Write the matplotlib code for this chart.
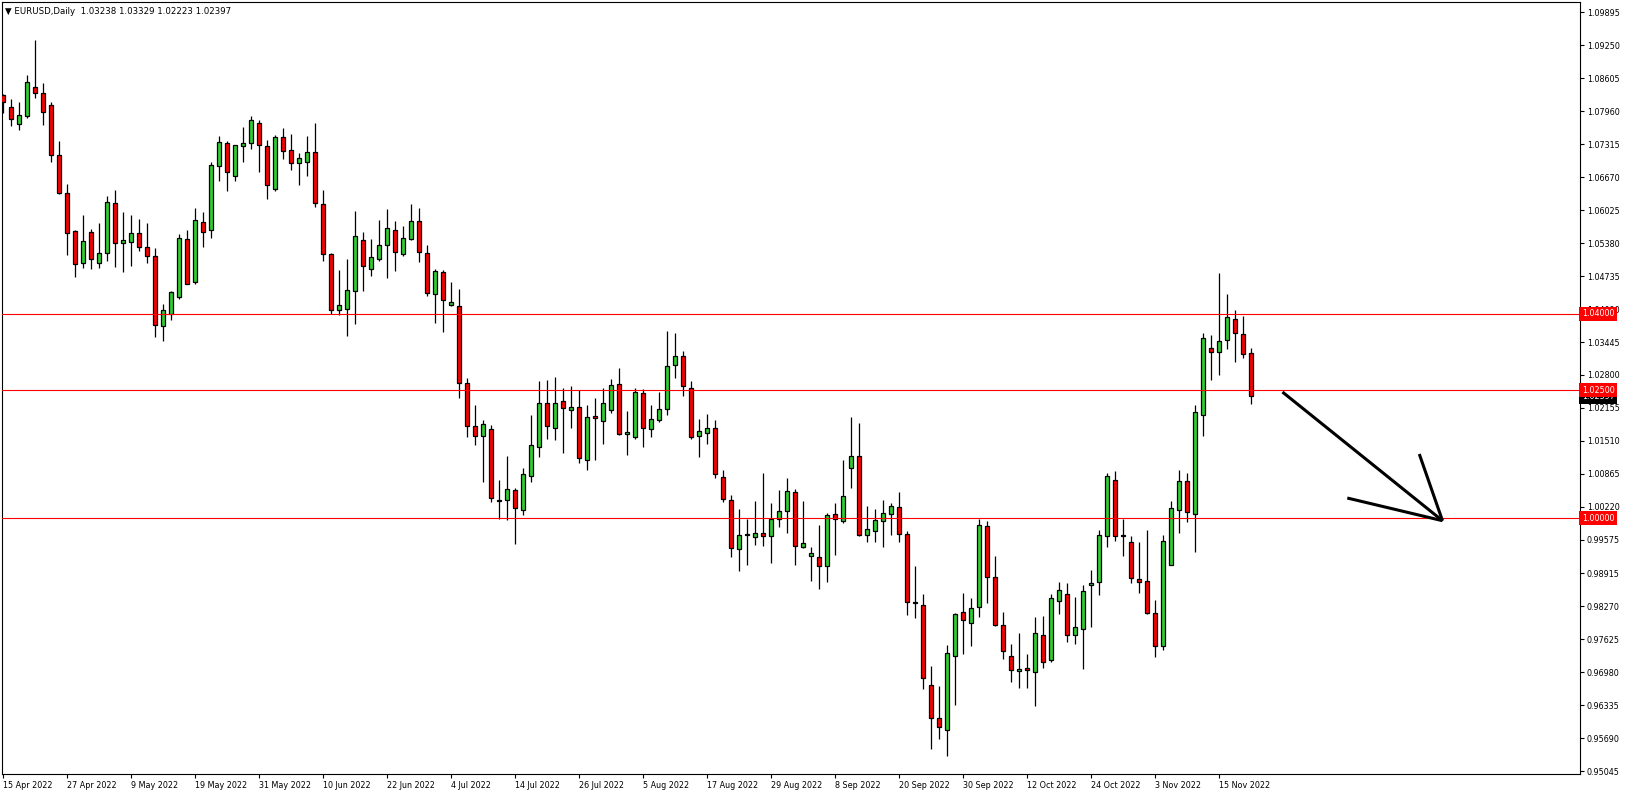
import numpy as np
import pandas as pd
import matplotlib
matplotlib.use('Agg')
import matplotlib.pyplot as plt

# EURUSD daily candles, 15 Apr 2022 .. 21 Nov 2022
opens = [1.0828, 1.0804, 1.0772, 1.0786, 1.0843, 1.0831, 1.0808, 1.0710, 1.0636, 1.0562,
         1.0499, 1.0559, 1.0499, 1.0518, 1.0616, 1.0538, 1.0540, 1.0557, 1.0530, 1.0512,
         1.0375, 1.0399, 1.0432, 1.0547, 1.0461, 1.0579, 1.0563, 1.0688, 1.0734, 1.0669,
         1.0729, 1.0733, 1.0774, 1.0729, 1.0643, 1.0745, 1.0720, 1.0694, 1.0696, 1.0716,
         1.0614, 1.0516, 1.0407, 1.0409, 1.0444, 1.0544, 1.0487, 1.0506, 1.0534, 1.0563,
         1.0516, 1.0547, 1.0581, 1.0518, 1.0438, 1.0481, 1.0416, 1.0414, 1.0264, 1.0180,
         1.0160, 1.0174, 1.0036, 1.0035, 1.0054, 1.0015, 1.0082, 1.0140, 1.0225, 1.0176,
         1.0230, 1.0211, 1.0217, 1.0113, 1.0199, 1.0189, 1.0211, 1.0262, 1.0164, 1.0158,
         1.0244, 1.0174, 1.0191, 1.0213, 1.0299, 1.0317, 1.0254, 1.0160, 1.0166, 1.0176,
         1.0080, 1.0035, 0.9939, 0.9968, 0.9962, 0.9971, 0.9964, 0.9998, 1.0013, 1.0050,
         0.9943, 0.9925, 0.9923, 0.9906, 1.0007, 0.9994, 1.0097, 1.0121, 0.9966, 0.9974,
         0.9994, 1.0007, 1.0021, 0.9968, 0.9836, 0.9829, 0.9673, 0.9608, 0.9585, 0.9731,
         0.9816, 0.9794, 0.9825, 0.9984, 0.9884, 0.9790, 0.9731, 0.9700, 0.9706, 0.9698,
         0.9771, 0.9722, 0.9837, 0.9851, 0.9771, 0.9782, 0.9868, 0.9874, 0.9964, 1.0074,
         0.9966, 0.9953, 0.9880, 0.9876, 0.9814, 0.9749, 0.9909, 1.0015, 1.0072, 1.0007,
         1.0201, 1.0332, 1.0324, 1.0348, 1.0389, 1.0360, 1.03238]
highs = [1.0829, 1.0821, 1.0814, 1.0867, 1.0936, 1.0851, 1.0814, 1.0738, 1.0654, 1.0564,
         1.0593, 1.0566, 1.0577, 1.0630, 1.0642, 1.0599, 1.0593, 1.0585, 1.0577, 1.0528,
         1.0419, 1.0445, 1.0556, 1.0564, 1.0606, 1.0599, 1.0697, 1.0748, 1.0737, 1.0731,
         1.0766, 1.0787, 1.0779, 1.0740, 1.0750, 1.0763, 1.0752, 1.0714, 1.0748, 1.0773,
         1.0642, 1.0519, 1.0485, 1.0507, 1.0601, 1.0560, 1.0546, 1.0583, 1.0605, 1.0581,
         1.0572, 1.0615, 1.0607, 1.0534, 1.0487, 1.0485, 1.0461, 1.0448, 1.0275, 1.0221,
         1.0192, 1.0183, 1.0074, 1.0121, 1.0058, 1.0098, 1.0201, 1.0268, 1.0271, 1.0277,
         1.0254, 1.0258, 1.0250, 1.0221, 1.0234, 1.0254, 1.0273, 1.0293, 1.0210, 1.0254,
         1.0252, 1.0221, 1.0246, 1.0367, 1.0363, 1.0326, 1.0268, 1.0193, 1.0204, 1.0191,
         1.0095, 1.0046, 1.0017, 0.9998, 1.0033, 1.0089, 1.0029, 1.0054, 1.0078, 1.0056,
         1.0033, 0.9943, 0.9986, 1.0009, 1.0029, 1.0113, 1.0198, 1.0186, 1.0023, 1.0017,
         1.0035, 1.0029, 1.0050, 0.9974, 0.9907, 0.9851, 0.9710, 0.9671, 0.9751, 0.9814,
         0.9853, 0.9844, 0.9999, 0.9994, 0.9925, 0.9816, 0.9753, 0.9775, 0.9733, 0.9806,
         0.9808, 0.9851, 0.9874, 0.9872, 0.9845, 0.9868, 0.9898, 0.9976, 1.0088, 1.0093,
         0.9998, 0.9964, 0.9953, 0.9976, 0.9839, 0.9966, 1.0033, 1.0095, 1.0088, 1.0221,
         1.0363, 1.0358, 1.0479, 1.0438, 1.0407, 1.0395, 1.03329]
lows = [1.0793, 1.0768, 1.0760, 1.0782, 1.0823, 1.0770, 1.0696, 1.0634, 1.0514, 1.0471,
        1.0490, 1.0488, 1.0490, 1.0504, 1.0492, 1.0482, 1.0494, 1.0523, 1.0500, 1.0354,
        1.0347, 1.0388, 1.0428, 1.0458, 1.0459, 1.0531, 1.0549, 1.0660, 1.0641, 1.0660,
        1.0696, 1.0723, 1.0678, 1.0625, 1.0641, 1.0703, 1.0682, 1.0651, 1.0670, 1.0609,
        1.0504, 1.0399, 1.0397, 1.0357, 1.0379, 1.0444, 1.0473, 1.0504, 1.0469, 1.0483,
        1.0512, 1.0545, 1.0502, 1.0434, 1.0381, 1.0365, 1.0414, 1.0234, 1.0159, 1.0142,
        1.0071, 1.0032, 0.9999, 0.9997, 0.9950, 1.0005, 1.0070, 1.0119, 1.0154, 1.0152,
        1.0128, 1.0177, 1.0107, 1.0095, 1.0113, 1.0144, 1.0205, 1.0162, 1.0123, 1.0154,
        1.0140, 1.0158, 1.0187, 1.0201, 1.0275, 1.0238, 1.0154, 1.0120, 1.0144, 1.0078,
        1.0031, 0.9924, 0.9897, 0.9909, 0.9948, 0.9946, 0.9913, 0.9982, 0.9970, 0.9909,
        0.9942, 0.9876, 0.9862, 0.9874, 0.9928, 0.9991, 1.0058, 0.9964, 0.9954, 0.9954,
        0.9944, 0.9966, 0.9954, 0.9811, 0.9805, 0.9666, 0.9549, 0.9568, 0.9535, 0.9635,
        0.9733, 0.9750, 0.9806, 0.9833, 0.9788, 0.9725, 0.9680, 0.9668, 0.9667, 0.9632,
        0.9706, 0.9718, 0.9812, 0.9757, 0.9753, 0.9704, 0.9786, 0.9849, 0.9943, 0.9956,
        0.9925, 0.9872, 0.9853, 0.9812, 0.9729, 0.9741, 0.9908, 0.9970, 0.9992, 0.9934,
        1.0161, 1.0270, 1.0279, 1.0330, 1.0305, 1.0313, 1.02223]
closes = [1.0814, 1.0780, 1.0788, 1.0853, 1.0831, 1.0794, 1.0710, 1.0636, 1.0557, 1.0497,
          1.0542, 1.0506, 1.0518, 1.0618, 1.0538, 1.0545, 1.0557, 1.0530, 1.0512, 1.0377,
          1.0407, 1.0442, 1.0549, 1.0459, 1.0583, 1.0559, 1.0690, 1.0735, 1.0677, 1.0730,
          1.0734, 1.0778, 1.0731, 1.0651, 1.0745, 1.0718, 1.0694, 1.0704, 1.0716, 1.0616,
          1.0516, 1.0407, 1.0416, 1.0446, 1.0551, 1.0493, 1.0510, 1.0534, 1.0567, 1.0520,
          1.0549, 1.0581, 1.0520, 1.0440, 1.0483, 1.0426, 1.0422, 1.0264, 1.0181, 1.0160,
          1.0185, 1.0039, 1.0034, 1.0056, 1.0019, 1.0086, 1.0142, 1.0225, 1.0181, 1.0226,
          1.0215, 1.0217, 1.0117, 1.0197, 1.0195, 1.0225, 1.0260, 1.0164, 1.0168, 1.0246,
          1.0176, 1.0193, 1.0213, 1.0297, 1.0318, 1.0258, 1.0158, 1.0170, 1.0176, 1.0086,
          1.0037, 0.9941, 0.9966, 0.9967, 0.9971, 0.9964, 0.9998, 1.0013, 1.0052, 0.9945,
          0.9951, 0.9931, 0.9906, 1.0005, 0.9998, 1.0044, 1.0121, 0.9966, 0.9978, 0.9996,
          1.0009, 1.0023, 0.9968, 0.9835, 0.9834, 0.9686, 0.9608, 0.9592, 0.9735, 0.9812,
          0.9800, 0.9823, 0.9986, 0.9884, 0.9790, 0.9739, 0.9702, 0.9704, 0.9702, 0.9776,
          0.9718, 0.9843, 0.9859, 0.9772, 0.9786, 0.9857, 0.9872, 0.9966, 1.0082, 0.9964,
          0.9965, 0.9882, 0.9874, 0.9814, 0.9749, 0.9956, 1.0019, 1.0072, 1.0011, 1.0207,
          1.0352, 1.0324, 1.0346, 1.0393, 1.0363, 1.0322, 1.02397]

dates = pd.bdate_range('2022-04-15', periods=len(opens))

levels = [1.04, 1.025, 1.0]
price_ticks = [1.09895, 1.09250, 1.08605, 1.07960, 1.07315, 1.06670, 1.06025, 1.05380,
               1.04735, 1.04090, 1.03445, 1.02800, 1.02155, 1.01510, 1.00865, 1.00220,
               0.99575, 0.98915, 0.98270, 0.97625, 0.96980, 0.96335, 0.95690, 0.95045]

# hand drawn arrow (bar index, price)
arrow_x = [159.9, 179.9]
arrow_y = [1.02466, 0.99948]
head1_x = [177.0, 179.9]
head1_y = [1.01253, 0.99948]
head2_x = [168.0, 179.9]
head2_y = [1.00392, 0.99948]

W, H = 1626, 795
fig = plt.figure(figsize=(W / 100, H / 100), dpi=100)
ax = fig.add_axes([2 / W, 21 / H, 1578 / W, 772 / H])

o = np.array(opens)
h = np.array(highs)
l = np.array(lows)
c = np.array(closes)
x = np.arange(len(o))
colors = np.where(c >= o, '#32cd32', '#ff0000')

ax.vlines(x, l, h, color='black', lw=0.9, zorder=2)
body_lo = np.minimum(o, c)
body_h = np.maximum(np.abs(c - o), 0.00003)
ax.bar(x, body_h, bottom=body_lo, width=0.5, color=colors, edgecolor='black',
       linewidth=0.9, zorder=3)

for lv in levels:
    ax.axhline(lv, color='#ff0000', lw=0.8, zorder=4)

for xs, ys in [(arrow_x, arrow_y), (head1_x, head1_y), (head2_x, head2_y)]:
    ax.plot(xs, ys, color='black', lw=2.2, solid_capstyle='butt', zorder=5)

ax.set_xlim(-0.1625, 197.09)
ax.set_ylim(0.94991, 1.10099)

ax.yaxis.tick_right()
ax.set_yticks(price_ticks)
ax.set_yticklabels([f'{v:.5f}' for v in price_ticks])
ax.tick_params(axis='y', direction='out', length=3, width=0.8, labelsize=5.8, pad=2)

xt = x[::8]
ax.set_xticks(xt)
ax.set_xticklabels([f'{d.day} {d:%b %Y}' for d in dates[xt]])
ax.tick_params(axis='x', direction='out', length=3, width=0.8, labelsize=5.8, pad=2)
for lab in ax.get_xticklabels():
    lab.set_ha('left')

for sp in ax.spines.values():
    sp.set_color('black')
    sp.set_linewidth(0.8)

# price boxes on the right scale
tr = ax.get_yaxis_transform()
ax.text(1.0012, c[-1] - 0.0002, f'{c[-1]:.5f}', transform=tr, ha='left', va='center',
        fontsize=5.8, color='white', zorder=6, clip_on=False,
        bbox=dict(boxstyle='square,pad=0.3', fc='black', ec='none'))
for lv in levels:
    ax.text(1.0012, lv, f'{lv:.5f}', transform=tr, ha='left', va='center',
            fontsize=5.8, color='white', zorder=7, clip_on=False,
            bbox=dict(boxstyle='square,pad=0.3', fc='#ff0000', ec='none'))

fig.text(5 / W, 1 - 11 / H,
         f'\u25bc EURUSD,Daily  {o[-1]:.5f} {h[-1]:.5f} {l[-1]:.5f} {c[-1]:.5f}',
         fontsize=6.2, va='center', ha='left')

fig.savefig('out.png', dpi=100)
